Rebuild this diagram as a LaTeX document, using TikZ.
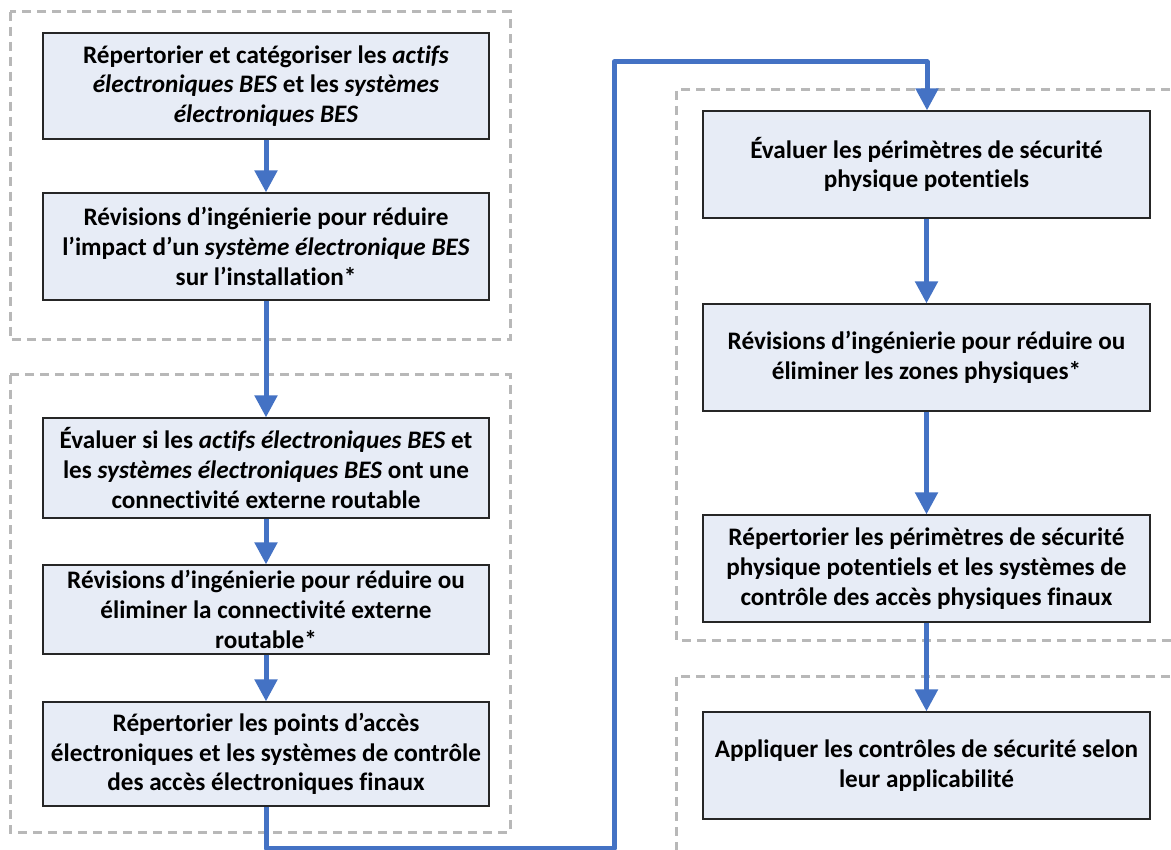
\documentclass[tikz,border=0pt]{standalone}
\usepackage{fontspec}
\setmainfont{Carlito}[Ligatures=NoCommon]
\usetikzlibrary{arrows.meta}
\definecolor{flowblue}{HTML}{4472C4}
\definecolor{boxfill}{HTML}{E7ECF6}
\definecolor{framegray}{HTML}{B8B8B8}
\tikzset{
  stepbox/.style={draw=black!85, line width=1.2pt, fill=boxfill, align=center,
    font=\fontsize{25.2}{29.8}\selectfont\bfseries, inner sep=0pt},
  leftbox/.style={stepbox, minimum width=446pt},
  rightbox/.style={stepbox, minimum width=447pt},
  frame/.style={draw=framegray, line width=3pt, dash pattern=on 9pt off 6pt},
  flow/.style={draw=flowblue, line width=5pt, line join=round,
    -{Triangle[width=22pt,length=22pt]}},
}
\begin{document}
\begin{tikzpicture}[x=1pt,y=-1pt]
\useasboundingbox (0,0) rectangle (1171,850);
\clip (0,0) rectangle (1171,850);
\fill[white] (0,0) rectangle (1171,850);
% frames
\draw[frame] (10,12) rectangle (510,340);
\draw[frame] (10,375) rectangle (510,832);
\draw[frame] (1200,90) -- (676,90) -- (676,640) -- (1200,640);
\draw[frame] (1200,676) -- (676,676) -- (676,870);
% left column
\node[leftbox, minimum height=106pt] (b1) at (266,86)
  {Répertorier et catégoriser les \textit{actifs}\\ \textit{électroniques BES} et les \textit{systèmes}\\ \textit{électroniques BES}};
\node[leftbox, minimum height=107pt] (b2) at (266,246.5)
  {Révisions d’ingénierie pour réduire\\ l’impact d’un \textit{système électronique BES}\\ sur l’installation*};
\node[leftbox, minimum height=100pt] (b3) at (266,468)
  {Évaluer si les \textit{actifs électroniques BES} et\\ les \textit{systèmes électroniques BES} ont une\\ connectivité externe routable};
\node[leftbox, minimum height=89pt] (b4) at (266,609.5)
  {Révisions d’ingénierie pour réduire ou\\ éliminer la connectivité externe\\ routable*};
\node[leftbox, minimum height=104pt] (b5) at (266,754)
  {Répertorier les points d’accès\\ électroniques et les systèmes de contrôle\\ des accès électroniques finaux};
% right column
\node[rightbox, minimum height=107pt] (b6) at (926.5,164.5)
  {Évaluer les périmètres de sécurité\\ physique potentiels};
\node[rightbox, minimum height=107pt] (b7) at (926.5,357.5)
  {Révisions d’ingénierie pour réduire ou\\ éliminer les zones physiques*};
\node[rightbox, minimum height=107pt] (b8) at (926.5,568.5)
  {Répertorier les périmètres de sécurité\\ physique potentiels et les systèmes de\\ contrôle des accès physiques finaux};
\node[rightbox, minimum height=107pt] (b9) at (926.5,765.5)
  {Appliquer les contrôles de sécurité selon\\ leur applicabilité};
% connectors
\coordinate (c1) at (266,848);
\coordinate (c2) at (614,848);
\coordinate (c3) at (614,62);
\coordinate (c4) at (927,62);
\draw[flow] (b1.south) -- (b2.north);
\draw[flow] (b2.south) -- (b3.north);
\draw[flow] (b3.south) -- (b4.north);
\draw[flow] (b4.south) -- (b5.north);
\draw[flow] (b5.south) -- (c1) -- (c2) -- (c3) -- (c4) -- (c4 |- b6.north);
\draw[flow] (b6.south) -- (b7.north);
\draw[flow] (b7.south) -- (b8.north);
\draw[flow] (b8.south) -- (b9.north);
\end{tikzpicture}
\end{document}
